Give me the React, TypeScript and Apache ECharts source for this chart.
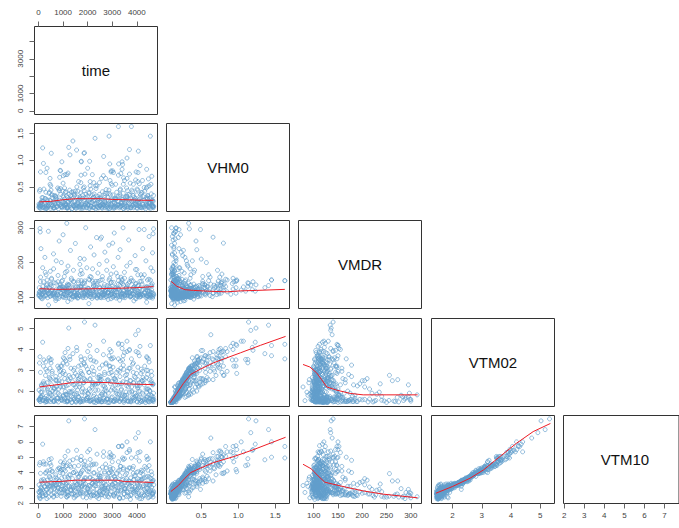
import React, { useEffect, useRef } from "react";
import * as echarts from "echarts";

// Each row: time, VHM0, VMDR, VTM02, VTM10
const highWaves = [
[1870,1.14,140,5.32,7.5],[1230,1.24,136,5.03,7.37],[2300,1.41,134,5.17,6.8],[4060,1.17,135,4.92,6.6],[3950,.63,138,4.71,6.25],
[3250,1.63,148,4.25,5.7],[4550,1.45,150,4.19,6.0],[170,1.23,118,4.35,5.85],[3700,1.2,145,3.96,5.5],[1400,1.36,128,3.8,4.83],
[1550,1.19,122,4.1,5.45],[520,1.13,132,3.52,4.9],[1850,1.13,142,3.36,4.5],[1280,1.1,118,3.52,4.45],[2650,1.07,130,4.4,5.35],
[3600,1.04,121,4.4,6.0],[2080,.98,150,4.2,5.5],[950,.97,146,3.2,4.2],[1740,.97,128,3.5,5.05],[3400,.97,112,4.25,5.75],
[200,.94,145,3.2,4.7],[2900,.93,155,4.0,5.3],[3260,.93,124,4.3,5.7],[3420,.92,140,3.5,4.95],[4130,.9,109,4.15,5.35],
[3400,.83,152,4.05,5.7],[4400,.83,131,3.65,5.05],[880,.81,138,2.76,4.0],[2000,.85,116,3.9,5.35],[900,.8,127,3.2,4.7],
[2960,.8,120,3.9,5.15],[2950,.78,167,3.55,5.0],[1200,.76,135,4.05,5.4],[300,.77,125,3.4,4.55],[3050,.77,143,3.6,5.05],
[4050,.77,112,3.85,5.3],[3970,.78,140,3.9,5.0],[1730,.72,178,3.25,4.8],[1890,.74,110,3.55,4.75],[1160,.73,133,3.3,4.45],
[1010,.71,119,3.6,4.6],[1080,.73,125,3.85,5.05],[2190,.73,147,3.15,4.5],[2640,.71,108,3.75,5.05],[3250,.72,138,3.55,4.7],
[3700,.74,115,4.0,5.4],[860,.68,128,2.95,4.25],[470,.66,112,3.5,4.6],[2730,.66,122,3.3,4.55],[3460,.67,135,3.05,4.3],
[4470,.65,102,3.55,4.9],[1630,.6,148,3.2,4.45],[2100,.6,118,3.65,4.85],[2910,.62,124,3.2,4.35],[3500,.62,105,3.85,4.9],
[4230,.62,158,2.95,4.1],[1000,.57,119,3.35,4.45],[1720,.58,132,3.65,4.8],[2250,.58,114,3.45,4.55],[2960,.56,112,2.9,4.05],
[470,.55,136,3.1,4.15],[3450,.55,110,3.7,4.85],[3860,.55,128,3.35,4.4],[4100,.56,107,3.7,4.75],[2380,.52,140,3.95,5.2],
[3000,.53,115,3.55,4.7],[4500,.52,118,3.4,4.45],[1560,.5,104,3.95,4.95],[4420,.5,122,3.6,4.85],[3600,.66,112,3.9,5.3],
];

const middleSea = [
[60,.45,112,3.65,4.65],[40,.42,108,3.35,4.5],[220,.46,115,3.5,4.55],[300,.4,104,3.05,4.0],[430,.38,110,3.6,4.85],
[510,.44,118,3.35,4.45],[560,.35,122,2.95,4.1],[700,.32,106,2.7,3.85],[780,.48,109,3.2,4.2],[830,.46,125,3.1,4.3],
[900,.36,113,3.0,4.15],[990,.33,102,2.85,3.95],[1060,.48,117,3.55,4.7],[1110,.41,105,3.45,4.4],[1190,.3,120,2.55,3.7],
[1270,.44,108,3.65,4.75],[1320,.34,112,3.1,4.35],[1380,.28,124,2.45,3.6],[1430,.37,101,3.0,4.0],[1500,.42,116,2.85,4.05],
[1570,.31,110,2.75,3.9],[1650,.27,105,2.6,3.75],[1720,.39,128,2.95,3.95],[1790,.35,103,2.8,4.15],[1860,.43,114,3.3,4.35],
[1930,.3,119,2.5,3.65],[1990,.33,107,3.05,4.1],[2050,.4,112,2.9,4.25],[2130,.46,102,3.5,4.5],[2200,.29,121,2.4,3.55],
[2260,.37,109,2.95,4.0],[2340,.47,115,3.4,4.55],[2410,.32,104,2.65,3.85],[2480,.36,126,3.1,4.2],[2540,.28,111,2.7,3.75],
[2600,.41,106,3.25,4.35],[2690,.34,118,2.8,3.95],[2750,.45,103,3.35,4.3],[2820,.3,113,2.55,3.7],[2880,.38,122,3.2,4.0],
[2970,.26,108,2.45,3.6],[3030,.35,100,3.15,4.25],[3110,.29,116,2.6,3.7],[3180,.4,105,2.9,3.95],[3240,.33,124,3.0,4.1],
[3330,.46,110,3.45,4.4],[3390,.27,102,2.35,3.5],[3450,.38,119,3.25,4.2],[3530,.31,107,2.75,3.85],[3620,.43,114,2.95,4.15],
[3680,.36,126,3.1,4.3],[3750,.28,104,2.5,3.65],[3830,.41,112,3.3,4.25],[3900,.3,120,2.7,3.8],[3990,.35,106,2.85,4.0],
[4040,.44,117,3.15,4.05],[4110,.27,101,2.4,3.55],[4180,.39,109,3.05,4.15],[4250,.32,123,2.65,3.9],[4320,.42,113,3.2,4.4],
[4390,.48,105,3.0,4.3],[4440,.34,118,2.8,3.75],[4510,.29,108,2.55,3.7],[4590,.37,115,2.95,4.05],[4650,.25,103,2.3,3.45],
[130,.24,110,2.25,3.4],[350,.26,118,2.4,3.5],[620,.22,104,2.15,3.3],[850,.25,126,2.35,3.45],[1040,.21,108,2.2,3.35],
[1240,.27,114,2.5,3.6],[1480,.23,102,2.3,3.4],[1680,.24,120,2.2,3.2],[1880,.26,106,2.55,3.65],[2070,.22,111,2.1,3.15],
[2290,.25,125,2.3,3.45],[2510,.23,100,2.45,3.5],[2720,.2,116,2.15,3.2],[2930,.24,108,2.35,3.4],[3130,.26,122,2.55,3.55],
[3360,.21,104,2.05,3.2],[3570,.25,113,2.4,3.45],[3790,.23,119,2.2,3.35],[4010,.22,103,2.25,3.3],[4220,.26,110,2.5,3.6],
[4480,.2,117,2.1,3.2],[4620,.24,106,2.35,3.4],[250,.19,112,2.35,3.45],[1130,.18,119,2.25,3.35],[2430,.2,105,2.4,3.5],
];

const denseBand = [
[20,.18,104,2.05,3.2],[115,.21,98,2.3,3.5],[205,.23,101,2.45,3.55],[285,.28,107,2.75,3.95],[395,.17,111,1.95,3.05],
[465,.25,103,2.6,3.7],[555,.3,106,2.85,4.05],[655,.2,109,2.15,3.3],[745,.26,113,2.5,3.6],[825,.19,97,2.1,3.25],
[945,.24,105,2.45,3.65],[1025,.31,110,2.95,4.2],[1100,.16,100,1.85,3.0],[1215,.22,104,2.3,3.4],[1295,.27,108,2.65,3.85],
[1375,.2,102,2.0,3.15],[1460,.33,112,3.1,4.4],[1545,.15,106,1.8,2.95],[1610,.25,99,2.55,3.7],[1695,.29,103,2.7,3.9],
[1775,.18,107,1.95,3.1],[1845,.23,111,2.4,3.5],[1925,.36,100,3.2,4.45],[2010,.17,105,1.9,3.0],[2095,.26,109,2.55,3.65],
[2175,.21,97,2.2,3.3],[2245,.31,102,2.8,3.95],[2325,.19,106,2.05,3.15],[2405,.24,110,2.35,3.5],[2475,.28,104,2.75,3.85],
[2555,.16,99,1.85,3.05],[2625,.22,107,2.25,3.35],[2685,.3,112,2.9,4.05],[2765,.18,101,2.0,3.2],[2845,.25,105,2.5,3.6],
[2925,.35,108,3.05,4.2],[3005,.2,103,2.15,3.25],[3075,.27,111,2.6,3.75],[3155,.17,98,1.9,3.0],[3225,.23,106,2.3,3.45],
[3305,.32,102,2.95,4.15],[3375,.19,109,2.1,3.25],[3435,.26,100,2.45,3.55],[3515,.16,104,1.8,2.95],[3585,.29,107,2.8,3.95],
[3655,.21,113,2.2,3.3],[3725,.34,101,3.1,4.3],[3795,.18,105,1.95,3.1],[3865,.24,110,2.4,3.5],[3945,.28,97,2.65,3.8],
[4025,.15,103,1.75,2.9],[4095,.22,108,2.25,3.4],[4165,.3,102,2.85,4.0],[4235,.17,106,1.9,3.05],[4305,.25,112,2.55,3.65],
[4375,.2,99,2.1,3.2],[4445,.33,104,3.0,4.15],[4525,.19,107,2.0,3.15],[4585,.26,101,2.5,3.6],[4665,.23,109,2.35,3.5],
[35,.13,128,1.6,2.7],[320,.14,135,1.62,2.85],[635,.12,142,1.5,2.65],[905,.16,130,1.68,2.9],[1175,.11,138,1.55,2.7],
[1435,.15,146,1.6,2.6],[1725,.13,132,1.52,2.8],[1985,.17,127,1.72,2.95],[2235,.12,140,1.48,2.55],[2515,.14,149,1.58,2.65],
[2795,.16,134,1.65,2.75],[3095,.11,129,1.5,2.6],[3355,.15,143,1.6,2.85],[3615,.13,137,1.54,2.7],[3895,.17,131,1.7,2.8],
[4185,.12,145,1.5,2.6],[4455,.14,128,1.56,2.75],[4625,.16,139,1.62,2.65],
];

const transitionDirection = [
[85,.14,158,1.7,2.8],[180,.3,132,2.35,3.3],[275,.12,172,1.55,2.55],[360,.24,138,2.1,3.2],[445,.4,128,2.65,3.75],
[530,.17,152,1.8,2.9],[615,.1,182,1.5,2.45],[705,.33,141,2.5,3.5],[795,.2,163,1.9,2.95],[885,.47,134,2.2,3.25],
[975,.13,149,1.62,2.7],[1065,.27,127,2.6,3.7],[1155,.11,175,1.52,2.6],[1245,.36,136,2.75,3.85],[1335,.18,155,1.72,2.85],
[1425,.23,144,2.3,3.1],[1515,.15,131,2.2,3.35],[1605,.42,129,2.45,3.45],[1695,.12,166,1.58,2.65],[1785,.29,139,2.15,3.15],
[1875,.16,147,1.95,3.05],[1965,.2,185,1.65,2.7],[2055,.38,125,2.9,4.05],[2145,.13,158,1.55,2.55],[2235,.25,133,2.4,3.4],
[2325,.52,146,2.35,3.3],[2415,.11,170,1.5,2.5],[2505,.31,128,2.55,3.6],[2595,.17,151,1.82,2.9],[2685,.22,137,2.25,3.35],
[2775,.14,178,1.6,2.6],[2865,.44,132,2.85,3.95],[2955,.19,143,2.05,3.1],[3045,.12,188,1.5,2.55],[3135,.28,126,2.3,3.3],
[3225,.16,160,1.7,2.8],[3315,.35,135,2.7,3.8],[3405,.21,148,1.85,2.9],[3495,.13,172,1.55,2.6],[3585,.48,130,2.6,3.6],
[3675,.26,141,2.35,3.45],[3765,.11,155,1.48,2.5],[3855,.34,127,2.9,3.95],[3945,.18,180,1.75,2.75],[4035,.24,133,2.15,3.2],
[4125,.15,146,2.0,3.1],[4215,.4,138,2.5,3.55],[4305,.12,165,1.52,2.55],[4395,.3,129,2.65,3.7],[4485,.19,152,1.8,2.85],
[4575,.55,136,2.4,3.4],[4655,.14,175,1.6,2.65],
];

const calmSea = [
[10,.12,108,1.58,2.75],[30,.15,115,1.62,2.45],[75,.1,101,1.5,2.85],[110,.14,122,1.7,3.0],[150,.17,96,1.8,2.65],
[190,.11,112,1.55,2.5],[240,.13,118,1.65,3.1],[275,.09,105,1.47,2.7],[320,.16,127,1.75,2.9],[370,.12,99,1.6,3.25],
[410,.14,110,1.52,2.4],[450,.18,116,1.9,3.15],[490,.1,104,1.5,2.8],[540,.13,121,1.63,2.55],[590,.15,108,1.72,3.05],
[640,.11,113,1.56,2.95],[680,.19,98,1.95,3.2],[730,.12,124,1.53,2.6],[770,.14,107,1.68,2.85],[810,.09,117,1.48,3.0],
[860,.17,103,1.82,2.7],[920,.13,111,1.6,2.45],[960,.11,130,1.54,3.15],[1020,.15,100,1.75,2.9],[1070,.12,119,1.5,2.65],
[1120,.16,106,1.85,3.25],[1170,.1,114,1.52,2.75],[1210,.14,125,1.66,2.5],[1260,.18,97,1.98,3.1],[1310,.12,109,1.58,2.85],
[1360,.09,120,1.46,2.6],[1410,.15,104,1.7,3.0],[1450,.13,116,1.62,2.35],[1510,.11,128,1.5,2.8],[1550,.17,101,1.88,3.2],
[1600,.12,112,1.56,2.55],[1640,.14,107,1.72,2.95],[1700,.1,118,1.48,2.7],[1750,.16,122,1.8,3.05],[1810,.13,99,1.6,2.4],
[1840,.11,105,1.53,3.2],[1910,.19,115,2.0,3.25],[1960,.12,110,1.64,2.6],[2020,.15,126,1.7,2.85],[2090,.1,102,1.5,2.75],
[2150,.14,113,1.57,2.5],[2220,.12,119,1.6,3.0],[2270,.17,106,1.84,3.15],[2330,.09,121,1.45,2.65],[2390,.13,98,1.55,2.9],
[2450,.11,108,1.52,2.3],[2500,.15,116,1.75,2.8],[2560,.12,103,1.48,2.55],[2590,.1,111,1.5,3.1],[2630,.14,124,1.58,2.7],
[2660,.16,100,1.66,2.95],[2710,.11,117,1.5,2.45],[2780,.13,107,1.62,2.85],[2840,.18,113,1.9,3.05],[2900,.09,129,1.47,2.6],
[2950,.12,96,1.56,2.75],[3000,.15,110,1.72,3.2],[3060,.1,120,1.52,2.5],[3120,.14,105,1.6,2.9],[3170,.12,115,1.54,2.65],
[3220,.17,101,1.85,3.0],[3290,.11,123,1.5,2.35],[3340,.13,108,1.64,2.8],[3410,.16,112,1.78,3.25],[3470,.09,118,1.46,2.6],
[3520,.12,99,1.58,2.95],[3580,.14,127,1.68,2.45],[3640,.1,106,1.5,2.75],[3710,.18,114,1.95,3.1],[3760,.12,103,1.55,2.55],
[3810,.15,119,1.7,2.9],[3870,.11,109,1.53,2.7],[3920,.13,125,1.6,3.05],[3980,.16,97,1.8,2.85],[4020,.1,111,1.48,2.4],
[4080,.14,116,1.62,2.65],[4150,.12,104,1.56,3.0],[4200,.11,120,1.5,2.3],[4260,.17,107,1.82,3.15],[4300,.13,113,1.6,2.5],
[4350,.09,128,1.45,2.8],[4410,.15,101,1.72,2.95],[4460,.12,110,1.5,2.35],[4520,.14,118,1.64,2.75],[4560,.1,105,1.52,2.45],
[4600,.16,122,1.78,3.05],[4640,.12,98,1.55,2.6],[4670,.11,112,1.5,2.8],[4690,.14,107,1.6,3.2],[55,.11,116,1.52,2.35],
[340,.1,122,1.5,2.3],[750,.13,96,1.65,2.5],[1150,.12,124,1.48,2.4],[1530,.1,108,1.47,2.5],[1950,.11,121,1.54,2.35],
[2370,.14,100,1.58,2.4],[2810,.1,114,1.46,2.45],[3310,.13,118,1.52,2.3],[3740,.11,102,1.5,2.25],[4120,.12,126,1.46,2.3],
[90,.2,102,1.95,3.05],[580,.2,111,2.0,3.2],[1090,.19,123,1.98,2.95],[1590,.2,98,2.05,3.25],[2110,.21,109,2.0,3.1],
[2610,.19,115,1.92,3.0],[3090,.2,105,2.08,3.3],[3560,.21,126,1.96,3.1],[4070,.19,108,1.98,3.0],[4530,.2,100,2.03,3.2],
];

const secondBranch = [
[140,.3,118,1.95,2.95],[640,.34,112,2.1,3.15],[1000,.42,130,2.2,3.3],[1470,.36,106,1.85,2.85],[1820,.48,124,2.4,3.45],
[2240,.3,133,1.75,2.7],[2700,.38,109,2.05,3.0],[3140,.55,128,2.5,3.55],[3590,.33,115,1.8,2.8],[4010,.46,121,2.25,3.35],
[4430,.28,104,1.7,2.65],[500,.52,138,2.55,3.6],[1340,.4,95,1.95,3.05],[2480,.58,130,2.65,3.75],[3800,.44,110,2.0,3.1],
[80,.78,145,2.9,3.95],[4610,.7,132,2.75,3.85],
];

const eastDirection = [
[60,.16,298,1.6,2.5],[100,.2,240,1.75,2.75],[170,.12,185,1.55,2.45],[260,.28,215,2.1,3.05],[310,.1,165,1.5,2.55],
[400,.15,290,1.7,2.7],[480,.24,175,1.9,3.1],[530,.35,155,2.3,3.35],[610,.11,225,1.52,2.4],[720,.3,205,2.2,3.2],
[790,.18,145,1.65,3.0],[840,.43,262,2.5,3.45],[930,.13,200,1.58,2.65],[1000,.22,280,1.8,2.95],[1050,.17,160,1.62,2.85],
[1150,.33,313,1.82,2.42],[1200,.12,190,1.5,2.5],[1300,.26,235,1.95,2.9],[1350,.09,150,1.46,2.6],[1420,.41,178,2.7,4.0],
[1500,.14,255,1.55,2.45],[1620,.21,142,1.72,3.05],[1680,.31,195,2.35,3.35],[1780,.1,168,1.5,2.7],[1860,.5,210,2.6,3.5],
[1920,.16,300,1.6,2.65],[2040,.24,152,1.85,3.15],[2120,.13,245,1.53,2.4],[2200,.35,182,2.3,3.3],[2260,.11,222,1.48,2.5],
[2360,.19,272,1.7,2.6],[2420,.28,146,2.05,3.25],[2470,.15,195,1.6,2.75],[2560,.66,273,2.55,3.45],[2600,.12,160,1.5,2.55],
[2700,.23,230,1.85,2.85],[2780,.38,205,2.5,3.6],[2860,.1,250,1.46,2.4],[2960,.17,143,1.68,3.0],[3020,.8,256,2.76,3.93],
[3080,.13,285,1.55,2.45],[3160,.27,170,2.0,3.1],[3240,.15,215,1.62,2.6],[3320,.44,237,2.35,3.25],[3440,.1,300,1.52,2.35],
[3500,.2,155,1.78,2.95],[3590,.32,190,2.25,3.2],[3670,.12,265,1.52,2.45],[3730,.57,200,2.5,3.4],[3850,.16,147,1.66,2.8],
[3930,.25,220,1.9,2.9],[4000,.11,180,1.5,2.5],[4090,.2,295,1.72,2.55],[4170,.36,165,2.4,3.5],[4240,.13,240,1.56,2.45],
[4300,.49,295,2.3,2.9],[4370,.16,205,1.6,2.7],[4430,.29,150,2.1,3.2],[4500,.11,275,1.48,2.4],[4570,.21,185,1.8,2.85],
[4640,.14,228,1.55,2.55],[4680,.34,297,1.9,2.7],[350,.85,150,2.95,4.1],[1740,.98,148,2.85,4.05],[2870,1.45,150,3.7,5.0],
[3780,1.63,148,3.55,4.95],[4040,.6,165,2.55,3.6],[1090,.4,172,2.8,4.1],[2100,.52,160,2.6,3.7],[3350,.75,158,3.1,4.4],
[70,.15,288,1.62,2.3],[4660,.13,283,1.72,2.4],[2520,.15,268,1.5,2.55],[1690,.16,212,1.48,2.6],
];

const lowDirection = [
[410,.14,78,2.2,3.15],[2050,.1,82,1.54,2.7],[3300,.16,92,1.85,2.35],[1190,.22,88,1.8,3.1],[3880,.26,90,2.4,3.55],
[2830,.12,94,1.6,2.95],[700,.28,91,2.55,3.7],[4400,.18,86,1.95,3.3],
];

const vhm0TimeLine = [[40,.22],[500,.23],[1000,.26],[1500,.28],[2000,.28],[2600,.28],[3000,.265],[3600,.26],[4200,.25],[4680,.25]];
const vmdrTimeLine = [[40,125],[800,123],[1600,124],[2400,125],[3200,126],[4000,128],[4680,131]];
const vtm02TimeLine = [[40,2.2],[900,2.33],[1500,2.43],[2800,2.41],[3300,2.36],[4000,2.33],[4680,2.31]];
const vtm10TimeLine = [[40,3.37],[1000,3.43],[1500,3.5],[3200,3.5],[3500,3.41],[4000,3.39],[4680,3.35]];
const vmdrVhm0Line = [[.094,146],[.17,132],[.283,122],[.396,120],[.62,117.5],[.85,116],[1.03,118.7],[1.25,120],[1.63,123]];
const vtm02Vhm0Line = [[.081,1.44],[.17,1.89],[.26,2.37],[.36,2.81],[.486,3.05],[.667,3.36],[.847,3.6],[1.03,3.84],[1.3,4.2],[1.64,4.63]];
const vtm10Vhm0Line = [[.09,2.76],[.19,3.15],[.28,3.63],[.36,4.0],[.486,4.28],[.667,4.65],[.94,5.04],[1.2,5.48],[1.64,6.3]];
const vtm02VmdrLine = [[78,3.28],[92,3.16],[106,2.88],[116,2.56],[127,2.2],[147,2.05],[175,1.89],[202,1.82],[249,1.82],[314,1.82]];
const vtm10VmdrLine = [[78,4.54],[95,4.24],[109,3.78],[123,3.37],[140,3.24],[167,3.04],[202,2.8],[243,2.59],[314,2.35]];
const vtm10Vtm02Line = [[1.43,2.65],[2,3.09],[2.6,3.63],[3.06,4.17],[3.62,5.04],[4.19,5.91],[4.76,6.67],[5.35,7.2]];

const variableNames = ["time", "VHM0", "VMDR", "VTM02", "VTM10"];
const xRanges = [[-163, 4841], [.031, 1.693], [68.7, 322], [1.28, 5.49], [1.97, 7.72]];
const yRanges = [[-213, 4864], [.04, 1.687], [68, 321], [1.26, 5.49], [1.98, 7.72]];
const xTicks = [[0, 1000, 2000, 3000, 4000], [.5, 1, 1.5], [100, 150, 200, 250, 300], [2, 3, 4, 5], [2, 3, 4, 5, 6, 7]];
const yTicks = [[0, 1000, 2000, 3000, 4000], [.5, 1, 1.5], [100, 200, 300], [2, 3, 4, 5], [2, 3, 4, 5, 6, 7]];
const yLabels = [[0, 1000, 3000], [.5, 1, 1.5], [100, 200, 300], [2, 3, 4, 5], [2, 3, 4, 5, 6, 7]];
const xFormat = [0, 1, 0, 0, 0];

const fits: Record<string, number[][]> = {
  "1-0": vhm0TimeLine, "2-0": vmdrTimeLine, "3-0": vtm02TimeLine, "4-0": vtm10TimeLine,
  "2-1": vmdrVhm0Line, "3-1": vtm02Vhm0Line, "4-1": vtm10Vhm0Line,
  "3-2": vtm02VmdrLine, "4-2": vtm10VmdrLine, "4-3": vtm10Vtm02Line,
};

const allRows = [...calmSea, ...denseBand, ...transitionDirection, ...middleSea, ...secondBranch, ...eastDirection, ...lowDirection, ...highWaves];

const colLeft = [34.5, 166.5, 298.5, 431.5, 563.5];
const rowTop = [26.5, 123.5, 220.5, 318.5, 415.5];
const panelW = 123;
const panelH = 88;
const INK = "#333333";

function buildOption() {
  const grid: any[] = [], xAxis: any[] = [], yAxis: any[] = [], series: any[] = [], graphic: any[] = [];
  let idx = 0;
  for (let r = 0; r < 5; r++) {
    for (let c = 0; c <= r; c++) {
      grid.push({ left: colLeft[c], top: rowTop[r], width: panelW, height: panelH, show: true,
        borderColor: INK, borderWidth: 1, backgroundColor: "#fff", containLabel: false });
      const showX = r === 4 || (r === 0 && c === 0);
      const showY = c === 0;
      const label = { color: "#444", fontSize: 8, fontFamily: "Liberation Sans, Arial, sans-serif" };
      xAxis.push({
        gridIndex: idx, type: "value", min: xRanges[c][0], max: xRanges[c][1], show: showX,
        position: r === 0 ? "top" : "bottom", splitLine: { show: false }, axisLine: { show: false, onZero: false },
        axisTick: { show: true, length: 5, lineStyle: { color: "#666", width: 1 }, customValues: xTicks[c] },
        axisLabel: { ...label, margin: r === 0 ? 10 : 8, customValues: xTicks[c], showMinLabel: true, showMaxLabel: true,
          formatter: (v: number) => (xFormat[c] ? v.toFixed(1) : String(v)) },
      });
      yAxis.push({
        gridIndex: idx, type: "value", min: yRanges[r][0], max: yRanges[r][1], show: showY, position: "left",
        splitLine: { show: false }, axisLine: { show: false, onZero: false },
        axisTick: { show: true, length: 5, lineStyle: { color: "#666", width: 1 }, customValues: yTicks[r] },
        axisLabel: { ...label, rotate: 90, margin: 14, customValues: yLabels[r], showMinLabel: true, showMaxLabel: true,
          align: "center", verticalAlign: "middle",
          formatter: (v: number) => (r === 1 ? v.toFixed(1) : String(v)) },
      });
      if (r === c) {
        graphic.push({ type: "text", x: colLeft[c] + panelW / 2, y: rowTop[r] + panelH / 2,
          style: { text: variableNames[r], fontSize: 15, fontFamily: "Liberation Sans, Arial, sans-serif",
            fill: "#111", align: "center", verticalAlign: "middle" } });
      } else {
        series.push({ type: "scatter", xAxisIndex: idx, yAxisIndex: idx, silent: true,
          data: allRows.map((row) => [row[c], row[r]]), symbol: "circle", symbolSize: 4,
          itemStyle: { color: "rgba(0,0,0,0)", borderColor: "rgba(98,158,203,0.68)", borderWidth: 1, opacity: 1 } });
        series.push({ type: "line", xAxisIndex: idx, yAxisIndex: idx, silent: true, data: fits[`${r}-${c}`],
          showSymbol: false, smooth: false, lineStyle: { color: "#ee1c25", width: 1 }, z: 5 });
      }
      idx++;
    }
  }
  return { animation: false, backgroundColor: "#fff", grid, xAxis, yAxis, series, graphic };
}

export default function App() {
  const ref = useRef<HTMLDivElement>(null);
  useEffect(() => {
    document.body.style.margin = "0";
    const chart = echarts.init(ref.current!, undefined, { renderer: "svg" });
    chart.setOption(buildOption() as any);
    return () => chart.dispose();
  }, []);
  return <div ref={ref} style={{ width: 679, height: 528, overflow: "hidden" }} />;
}
